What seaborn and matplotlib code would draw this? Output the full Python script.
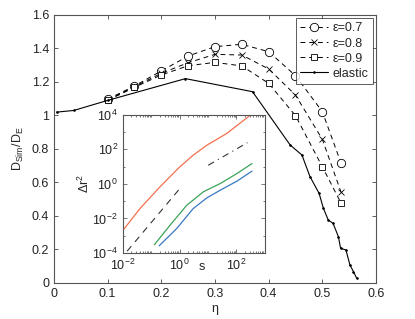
import numpy as np
import pandas as pd
import matplotlib
matplotlib.use('Agg')
import matplotlib.pyplot as plt
from matplotlib.ticker import LogLocator, FixedLocator, NullFormatter
import seaborn as sns

# datos de la figura principal
eta = [0.1, 0.15, 0.2, 0.25, 0.3, 0.35, 0.4, 0.45, 0.5, 0.535]
d_07 = [1.097, 1.176, 1.266, 1.355, 1.411, 1.425, 1.381, 1.238, 1.023, 0.715]
d_08 = [1.092, 1.172, 1.252, 1.315, 1.365, 1.361, 1.278, 1.122, 0.858, 0.541]
d_09 = [1.090, 1.168, 1.242, 1.297, 1.317, 1.296, 1.192, 0.999, 0.694, 0.476]

eta_el = [0.005, 0.037, 0.1, 0.245, 0.37, 0.44, 0.462, 0.477, 0.494, 0.502,
          0.511, 0.520, 0.530, 0.534, 0.544, 0.5515, 0.558, 0.564]
d_el = [1.02, 1.03, 1.09, 1.22, 1.142, 0.824, 0.764, 0.635, 0.535, 0.446,
        0.376, 0.356, 0.276, 0.207, 0.197, 0.107, 0.068, 0.028]

# datos del recuadro (desplazamiento cuadratico medio)
s_or = [0.01, 0.04, 0.204, 1.02, 3.0, 9.1, 45.7, 309]
r_or = [2.0e-3, 0.037, 0.68, 9.8, 46, 174, 832, 9550]
s_gr = [0.129, 0.457, 1.78, 6.9, 26.9, 105, 355]
r_gr = [3.0e-4, 4.0e-3, 0.058, 0.35, 1.05, 4.0, 15.1]
s_bl = [0.19, 0.79, 3.0, 9.1, 26.9, 105, 355]
r_bl = [2.6e-4, 2.6e-3, 0.037, 0.155, 0.43, 1.45, 5.5]
s_ref2 = [0.0141, 1.02]
r_ref2 = [1.26e-4, 0.54]
s_ref1 = [10.2, 245]
r_ref1 = [12, 245]

sns.set_style('ticks')
plt.rcParams['font.family'] = ['Liberation Sans', 'DejaVu Sans']
plt.rcParams['mathtext.fontset'] = 'custom'
plt.rcParams['mathtext.rm'] = 'Liberation Sans'
plt.rcParams['xtick.direction'] = 'in'
plt.rcParams['ytick.direction'] = 'in'

fig = plt.figure(figsize=(4.15, 3.19), dpi=100)
ax = fig.add_axes([0.130, 0.113, 0.776, 0.840])

df = pd.DataFrame({'eta': eta, '0.7': d_07, '0.8': d_08, '0.9': d_09})
dash = (5, 4)
sns.lineplot(data=df, x='eta', y='0.7', ax=ax, color='black', lw=0.7,
             marker='o', markersize=6, markerfacecolor='white', markeredgecolor='black',
             markeredgewidth=0.6, dashes=dash, label='ε=0.7')
sns.lineplot(data=df, x='eta', y='0.8', ax=ax, color='black', lw=0.7,
             marker='x', markersize=5, markeredgecolor='black',
             markeredgewidth=0.6, dashes=dash, label='ε=0.8')
sns.lineplot(data=df, x='eta', y='0.9', ax=ax, color='black', lw=0.7,
             marker='s', markersize=5, markerfacecolor='white', markeredgecolor='black',
             markeredgewidth=0.6, dashes=dash, label='ε=0.9')
sns.lineplot(x=eta_el, y=d_el, ax=ax, color='black', lw=0.8, marker='.',
             markersize=2.2, markeredgecolor='black', markerfacecolor='black',
             label='elastic')

ax.set_xlim(0, 0.6)
ax.set_ylim(0, 1.6)
ax.set_xticks(np.arange(0, 0.61, 0.1))
ax.set_xticklabels(['0', '0.1', '0.2', '0.3', '0.4', '0.5', '0.6'])
ax.set_yticks(np.arange(0, 1.61, 0.2))
ax.set_yticklabels(['0', '0.2', '0.4', '0.6', '0.8', '1', '1.2', '1.4', '1.6'])
ax.tick_params(labelsize=9, length=3, width=0.6, top=True, right=True, colors='#444444',
               labelcolor='#222222')
for sp in ax.spines.values():
    sp.set_visible(True)
    sp.set_color('#555555')
    sp.set_linewidth(0.8)
ax.set_xlabel('η', fontsize=9, labelpad=2)
ax.set_ylabel(r'D$_{\rm Sim}$/D$_{\rm E}$', fontsize=9, labelpad=4)
leg = ax.legend(loc='upper right', fontsize=9, frameon=True, fancybox=False,
                borderpad=0.35, labelspacing=0.25, handlelength=2.2, handletextpad=0.4,
                borderaxespad=0.25)
leg.get_frame().set_edgecolor('#333333')
leg.get_frame().set_linewidth(0.7)

# recuadro
ins = fig.add_axes([0.296, 0.207, 0.342, 0.433])
sns.lineplot(x=s_or, y=r_or, ax=ins, color='#f4704e', lw=0.9)
sns.lineplot(x=s_gr, y=r_gr, ax=ins, color='#3aa35a', lw=0.9)
sns.lineplot(x=s_bl, y=r_bl, ax=ins, color='#3a78c4', lw=0.9)
sns.lineplot(x=s_ref2, y=r_ref2, ax=ins, color='#333333', lw=0.8, dashes=(6, 5))
sns.lineplot(x=s_ref1, y=r_ref1, ax=ins, color='#333333', lw=0.8, dashes=(6, 4, 1, 4))
ins.set_xscale('log')
ins.set_yscale('log')
ins.set_xlim(1e-2, 1e3)
ins.set_ylim(1e-4, 1e4)
ins.xaxis.set_major_locator(FixedLocator([1e-2, 1e0, 1e2]))
ins.yaxis.set_major_locator(FixedLocator([1e-4, 1e-2, 1e0, 1e2, 1e4]))
ins.xaxis.set_minor_locator(LogLocator(base=10, subs=np.arange(1, 10) * 1.0, numticks=20))
ins.yaxis.set_minor_locator(FixedLocator([1e-3, 1e-1, 1e1, 1e3]))
ins.xaxis.set_minor_formatter(NullFormatter())
ins.yaxis.set_minor_formatter(NullFormatter())
ins.tick_params(which='both', labelsize=9, top=True, right=True, colors='#444444',
                labelcolor='#222222', width=0.5)
ins.tick_params(which='major', length=3)
ins.tick_params(which='minor', length=1.5)
for sp in ins.spines.values():
    sp.set_visible(True)
    sp.set_color('#555555')
    sp.set_linewidth(0.8)
ins.set_xlabel('s', fontsize=9, labelpad=-10)
ins.xaxis.set_label_coords(0.56, -0.06)
ins.set_ylabel('Δr$^2$', fontsize=9, labelpad=0)

fig.savefig('out.png', dpi=100)
